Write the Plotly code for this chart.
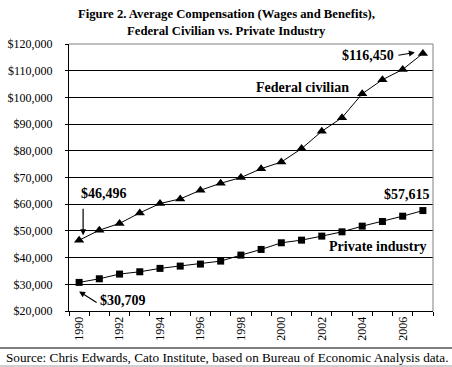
import plotly.graph_objects as go

years = list(range(1990, 2008))
federal = [46496, 50280, 52790, 56750, 60260, 61990, 65230, 67850, 69980, 73300,
           75800, 80820, 87290, 92410, 101380, 106620, 110470, 116450]
private = [30709, 32070, 33830, 34690, 35960, 36820, 37570, 38690, 40930, 43060,
           45550, 46540, 48040, 49650, 51780, 53530, 55510, 57615]
tick_years = list(range(1990, 2007, 2))
tick_labels = [str(y) for y in tick_years]
y_ticks = list(range(20000, 120001, 10000))
y_labels = ["${:,}".format(v) for v in y_ticks]

SERIF = "Liberation Serif, Times New Roman, serif"
L, R, T, B = 69, 433, 44, 311
PW, PH = R - L, B - T


def px(x):
    return (x - L) / PW


def py(y):
    return (B - y) / PH


fig = go.Figure()
fig.add_trace(go.Scatter(x=years, y=federal, mode="lines+markers",
                         line=dict(color="black", width=1),
                         marker=dict(symbol="triangle-up", size=9, color="black"),
                         showlegend=False, hoverinfo="skip"))
fig.add_trace(go.Scatter(x=years, y=private, mode="lines+markers",
                         line=dict(color="black", width=1),
                         marker=dict(symbol="square", size=7, color="black"),
                         showlegend=False, hoverinfo="skip"))

ann_font = dict(family=SERIF, size=14, color="black")


def label(text, x, y, font=ann_font, xanchor="center"):
    return dict(text=text, xref="paper", yref="paper", x=px(x), y=py(y),
                xanchor=xanchor, yanchor="middle", showarrow=False, font=font)


def arrow(xv, yv, xs, ys, ax, ay):
    return dict(text="", x=xv, y=yv, xshift=xs, yshift=ys, ax=ax, ay=ay,
                showarrow=True, arrowhead=2, arrowsize=1, arrowwidth=1.2,
                arrowcolor="black")


title_font = dict(family=SERIF, size=12.7, color="black")
annotations = [
    label("<b>Figure 2. Average Compensation (Wages and Benefits),</b>", 226, 14, title_font),
    label("<b>Federal Civilian vs. Private Industry</b>", 226, 31, title_font),
    label("<b>Federal civilian</b>", 302.5, 88),
    label("<b>Private industry</b>", 378, 246.7),
    label("<b>$116,450</b>", 368, 55),
    arrow(years[-1], federal[-1], -8, 1, -18, 3),
    label("<b>$46,496</b>", 104, 193),
    arrow(years[0], federal[0], 4, 5, 0, -28),
    label("<b>$30,709</b>", 122.5, 300),
    arrow(years[0], private[0], 0, -9, 19, 12),
    label("<b>$57,615</b>", 432, 194, xanchor="right"),
    label("Source: Chris Edwards, Cato Institute, based on Bureau of Economic Analysis data.",
          4, 357, dict(family=SERIF, size=13.2, color="black"), xanchor="left"),
]

shapes = [
    dict(type="line", xref="paper", yref="paper", x0=0, x1=1, y0=1, y1=1,
         line=dict(color="#808080", width=1)),
    dict(type="line", xref="paper", yref="paper", x0=1, x1=1, y0=0, y1=1,
         line=dict(color="#808080", width=1)),
    dict(type="line", xref="paper", yref="paper", x0=px(0), x1=px(452),
         y0=py(348), y1=py(348), line=dict(color="black", width=1)),
    dict(type="line", xref="paper", yref="paper", x0=px(0), x1=px(452),
         y0=py(366), y1=py(366), line=dict(color="#a0a0a0", width=1)),
]

fig.update_layout(
    width=452, height=367,
    margin=dict(l=L, r=452 - R, t=T, b=367 - B, autoexpand=False),
    paper_bgcolor="white", plot_bgcolor="white",
    font=dict(family=SERIF, size=12, color="black"),
    annotations=annotations, shapes=shapes, hovermode=False,
    xaxis=dict(range=[1989.5, 2007.5], tickmode="array", tickvals=tick_years,
               ticktext=tick_labels, tickangle=-90, ticks="", showgrid=False,
               showline=True, linecolor="black", linewidth=1, zeroline=False,
               automargin=False, tickfont=dict(family=SERIF, size=12),
               minor=dict(tick0=1989.5, dtick=1, ticks="outside", ticklen=4,
                          tickcolor="black", tickwidth=1, showgrid=False)),
    yaxis=dict(range=[20000, 120000], tickmode="array", tickvals=y_ticks,
               ticktext=y_labels, ticks="outside", ticklen=3, tickcolor="black",
               showgrid=True, gridcolor="black", gridwidth=1,
               showline=True, linecolor="black", linewidth=1, zeroline=False,
               automargin=False, tickfont=dict(family=SERIF, size=12),
               ticklabelstandoff=10),
)

fig.write_html("out.html", config={"displayModeBar": False, "staticPlot": True},
               post_script="document.body.style.margin='0';document.body.style.overflow='hidden';")
